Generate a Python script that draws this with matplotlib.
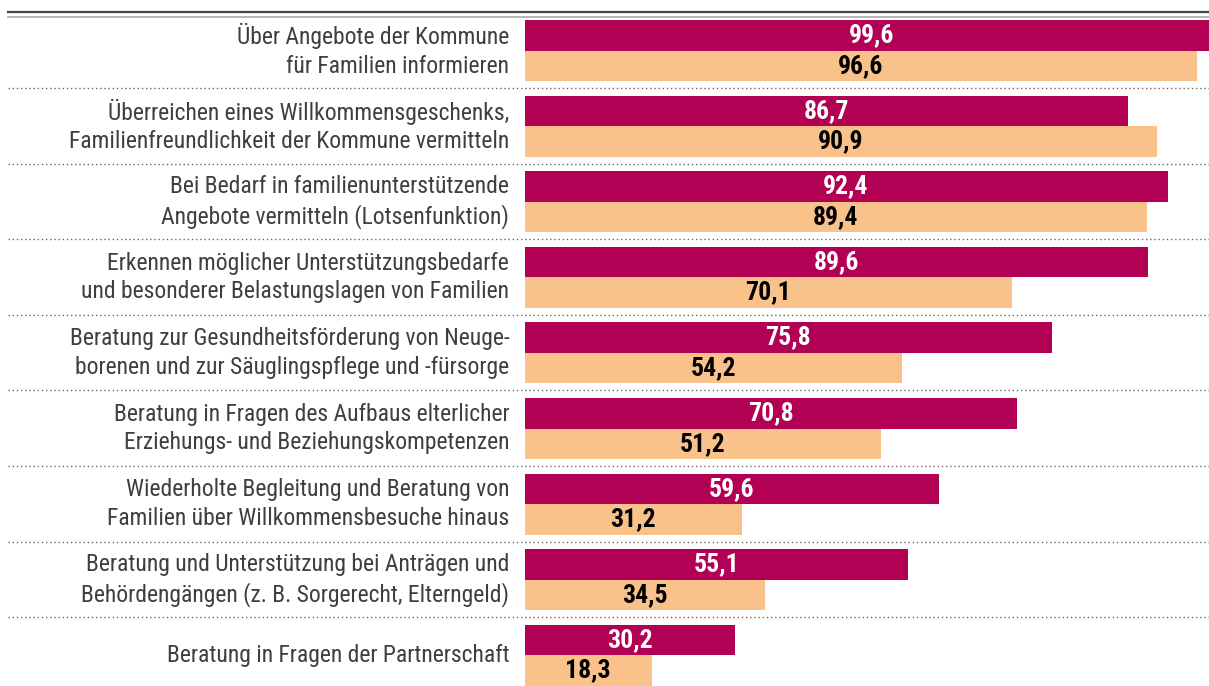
import matplotlib
matplotlib.use('agg')
import matplotlib.pyplot as plt
from matplotlib import font_manager

labels = [
    "Über Angebote der Kommune\nfür Familien informieren",
    "Überreichen eines Willkommensgeschenks,\nFamilienfreundlichkeit der Kommune vermitteln",
    "Bei Bedarf in familienunterstützende\nAngebote vermitteln (Lotsenfunktion)",
    "Erkennen möglicher Unterstützungsbedarfe\nund besonderer Belastungslagen von Familien",
    "Beratung zur Gesundheitsförderung von Neuge-\nborenen und zur Säuglingspflege und -fürsorge",
    "Beratung in Fragen des Aufbaus elterlicher\nErziehungs- und Beziehungskompetenzen",
    "Wiederholte Begleitung und Beratung von\nFamilien über Willkommensbesuche hinaus",
    "Beratung und Unterstützung bei Anträgen und\nBehördengängen (z. B. Sorgerecht, Elterngeld)",
    "Beratung in Fragen der Partnerschaft",
]
series_a = [99.6, 86.7, 92.4, 89.6, 75.8, 70.8, 59.6, 55.1, 30.2]
series_b = [96.6, 90.9, 89.4, 70.1, 54.2, 51.2, 31.2, 34.5, 18.3]

color_a = "#b20055"
color_b = "#f9c28b"

# look for a narrow face, the original uses a condensed sans
fonts = font_manager.fontManager.ttflist
names = {f.name for f in fonts}
stretch = "normal"
font = "DejaVu Sans"
for cand in ["Roboto Condensed", "Liberation Sans Narrow", "Open Sans Condensed"]:
    if cand in names:
        font = cand
        break
else:
    if any(f.name == "DejaVu Sans" and f.stretch == "condensed" for f in fonts):
        stretch = "condensed"
plt.rcParams['font.family'] = [font, 'DejaVu Sans']
plt.rcParams['font.stretch'] = stretch

fig = plt.figure(figsize=(12.09, 6.86), dpi=100)
ax = fig.add_axes([0, 0, 1, 1])
ax.set_axis_off()

# one group = 75.6 px; x: 6.96 px per unit, zero at 524.5 px
ax.set_xlim(-524.5 / 6.96, (1209 - 524.5) / 6.96)
ax.set_ylim(686 / 75.6, 0)

bar_h = 0.403
mid0 = 50.5 / 75.6
for i, (lab, a, b) in enumerate(zip(labels, series_a, series_b)):
    mid = mid0 + i
    ax.barh(mid - bar_h / 2, a, height=bar_h, color=color_a, linewidth=0)
    ax.barh(mid + bar_h / 2, b, height=bar_h, color=color_b, linewidth=0)
    ax.text(a / 2, mid - bar_h / 2, f"{a:.1f}".replace(".", ","), color="white",
            fontsize=18.5, fontweight="bold", ha="center", va="center")
    ax.text(b / 2, mid + bar_h / 2, f"{b:.1f}".replace(".", ","), color="black",
            fontsize=18.5, fontweight="bold", ha="center", va="center")
    ax.text(-2.2, mid, lab, color="#3f3f3f", fontsize=17, ha="right", va="center",
            linespacing=1.3)
    if i < len(labels) - 1:
        ax.plot([0.007, 1], [mid + 37.5 / 75.6] * 2, transform=ax.get_yaxis_transform(),
                color="#666666", linewidth=1, linestyle=(0, (1, 2)))

ax.plot([0.007, 1], [12 / 75.6] * 2, transform=ax.get_yaxis_transform(),
        color="#444444", linewidth=1.6)
ax.plot([0.007, 1], [16.5 / 75.6] * 2, transform=ax.get_yaxis_transform(),
        color="#aaaaaa", linewidth=1.2)

fig.savefig("out.png", dpi=100)
